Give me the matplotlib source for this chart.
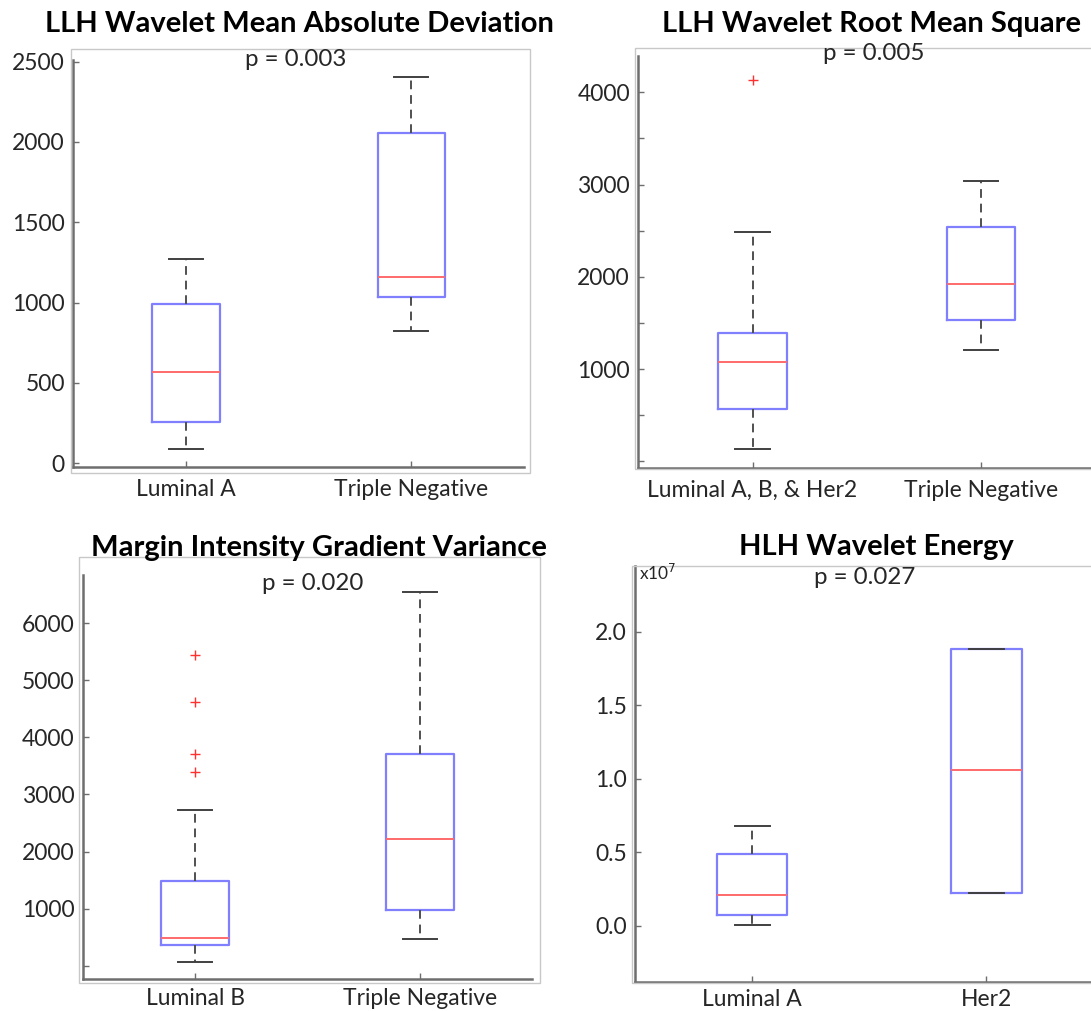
import matplotlib
matplotlib.use("Agg")
import matplotlib.pyplot as plt
from matplotlib.patches import Rectangle

# five-number summaries: [whislo, q1, median, q3, whishi]
mad_groups = ["Luminal A", "Triple Negative"]
mad_stats = [[91, 255, 570, 989, 1273], [821, 1033, 1157, 2057, 2404]]
mad_fliers = [[], []]

rms_groups = ["Luminal A, B, & Her2", "Triple Negative"]
rms_stats = [[131, 572, 1074, 1391, 2487], [1206, 1537, 1924, 2543, 3042]]
rms_fliers = [[4133], []]

grad_groups = ["Luminal B", "Triple Negative"]
grad_stats = [[72, 364, 492, 1480, 2728], [464, 982, 2221, 3715, 6541]]
grad_fliers = [[3399, 3704, 4620, 5438], []]

energy_groups = ["Luminal A", "Her2"]
energy_stats = [[0.05e6, 0.71e6, 2.11e6, 4.88e6, 6.80e6],
                [2.24e6, 2.24e6, 10.57e6, 18.87e6, 18.87e6]]
energy_fliers = [[], []]

W, H = 1091, 1011
TXT = "#262626"
AXC = "#6e6e6e"
plt.rcParams["font.family"] = ["Lato", "DejaVu Sans"]

fig = plt.figure(figsize=(W / 100, H / 100), dpi=100)


def px_rect(l, t, r, b):
    return [l / W, 1 - b / H, (r - l) / W, (b - t) / H]


def frame(l, t, r, b):
    fig.patches.append(Rectangle((l / W, 1 - b / H), (r - l) / W, (b - t) / H,
                                 transform=fig.transFigure, fill=False,
                                 edgecolor="#c8c8c8", lw=1.0, zorder=0))


def panel(rect, groups, stats, fliers, ylim, yticks, ylabels, title, tpos, ptext, ppos, xpad=9):
    ax = fig.add_axes(px_rect(*rect))
    bxp_stats = []
    for s, f in zip(stats, fliers):
        bxp_stats.append(dict(whislo=s[0], q1=s[1], med=s[2], q3=s[3], whishi=s[4], fliers=f))
    ax.bxp(bxp_stats, positions=[1, 2], widths=0.3, capwidths=0.15,
           boxprops=dict(color="#6a6aff", lw=1.6, alpha=0.85),
           medianprops=dict(color="#ff6a6a", lw=1.4),
           whiskerprops=dict(color="#505050", lw=1.4, ls=(0, (4.5, 3))),
           capprops=dict(color="#404040", lw=1.4),
           flierprops=dict(marker="+", markeredgecolor="#ff3030", markersize=7, mew=1.0))
    ax.set_xlim(0.5, 2.5)
    ax.set_ylim(*ylim)
    ax.set_yticks(yticks)
    ax.set_yticklabels(ylabels)
    ax.set_xticks([1, 2])
    ax.set_xticklabels(groups)
    for side in ["top", "right"]:
        ax.spines[side].set_visible(False)
    for side in ["left", "bottom"]:
        ax.spines[side].set_color(AXC)
        ax.spines[side].set_linewidth(1.8)
    ax.tick_params(direction="in", length=4, width=1, color=AXC,
                   labelsize=16.5, labelcolor=TXT)
    ax.tick_params(axis="y", pad=6)
    ax.tick_params(axis="x", pad=xpad)
    ax.patch.set_alpha(0)
    fig.text(tpos[0] / W, 1 - tpos[1] / H, title, ha="center", va="center",
             fontsize=21, fontweight="bold", color="black")
    fig.text(ppos[0] / W, 1 - ppos[1] / H, ptext, ha="center", va="center",
             fontsize=17.4, color=TXT)
    return ax


frame(70.6, 49.5, 530, 472.7)
panel((73.3, 60, 524, 466.7), mad_groups, mad_stats, mad_fliers,
      (-21, 2510), [0, 500, 1000, 1500, 2000, 2500],
      ["0", "500", "1000", "1500", "2000", "2500"],
      "LLH Wavelet Mean Absolute Deviation", (299, 24), "p = 0.003", (296, 59))

frame(634.8, 48.3, 1100, 469)
panel((638.3, 56, 1095.3, 467.7), rms_groups, rms_stats, rms_fliers,
      (-68, 4393), [0, 500, 1000, 1500, 2000, 2500, 3000, 3500, 4000],
      ["", "", "1000", "", "2000", "", "3000", "", "4000"],
      "LLH Wavelet Root Mean Square", (871, 24), "p = 0.005", (874, 54))

frame(79.2, 556.7, 540, 983.3)
panel((82.7, 575, 532.3, 979.3), grad_groups, grad_stats, grad_fliers,
      (-236, 6842), [0, 1000, 2000, 3000, 4000, 5000, 6000],
      ["", "1000", "2000", "3000", "4000", "5000", "6000"],
      "Margin Intensity Gradient Variance", (319, 548), "p = 0.020", (313, 583), xpad=6)

frame(631.7, 565.7, 1100, 983.3)
panel((635, 566, 1103.5, 981.7), energy_groups, energy_stats, energy_fliers,
      (-0.381e7, 2.449e7), [0, 0.5e7, 1.0e7, 1.5e7, 2.0e7],
      ["0.0", "0.5", "1.0", "1.5", "2.0"],
      "HLH Wavelet Energy", (876, 547), "p = 0.027", (865, 578), xpad=5)
fig.text(639 / W, 1 - 573 / H, "x10$^7$", ha="left", va="center", fontsize=12.5, color=TXT)

fig.savefig("out.png", dpi=100)
